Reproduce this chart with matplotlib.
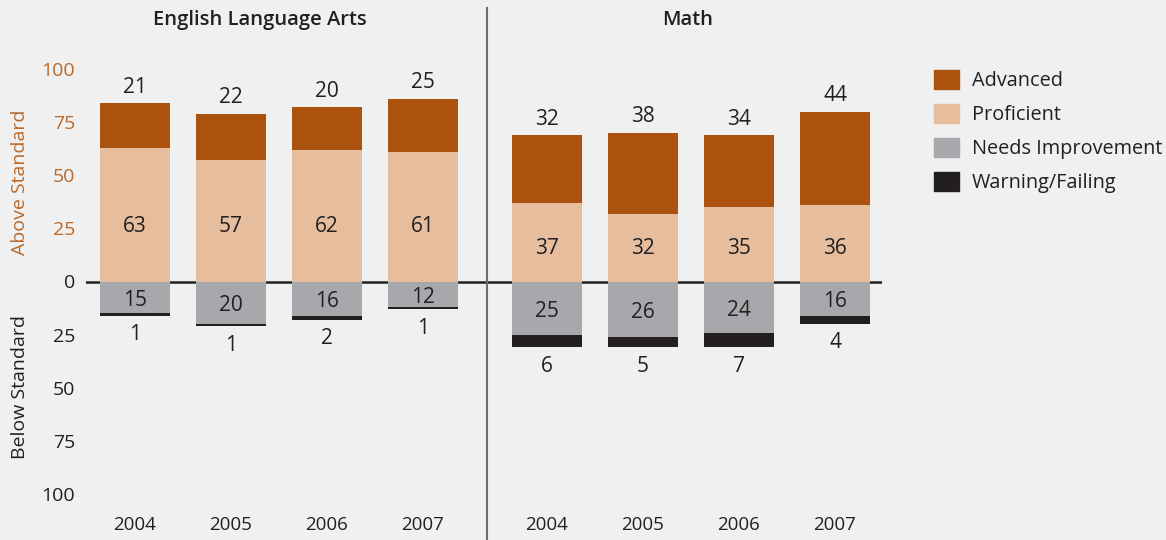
import matplotlib
matplotlib.use("Agg")
import matplotlib.pyplot as plt
from matplotlib.patches import Patch

plt.rcParams['font.family'] = ['Open Sans', 'DejaVu Sans']

# data
years = ['2004', '2005', '2006', '2007']
subjects = ['English Language Arts', 'Math']
ela_advanced = [21, 22, 20, 25]
ela_proficient = [63, 57, 62, 61]
ela_needs = [15, 20, 16, 12]
ela_warning = [1, 1, 2, 1]
math_advanced = [32, 38, 34, 44]
math_proficient = [37, 32, 35, 36]
math_needs = [25, 26, 24, 16]
math_warning = [6, 5, 7, 4]

# colours
c_adv = '#AB520F'
c_prof = '#E6BD9D'
c_need = '#A7A8AB'
c_warn = '#231F20'
c_text = '#231F20'
c_orange = '#B9692B'
bg = '#F0F0F0'

W, H = 1166, 540
fig = plt.figure(figsize=(W / 100, H / 100), dpi=100, facecolor=bg)
# axes box in pixels: x 86..882, y(top)=69 (100) .. 494 (-100)
ax = fig.add_axes([86 / W, (H - 494) / H, (882 - 86) / W, (494 - 69) / H])
ax.set_facecolor(bg)

step = 96.0
bar_w = 70 / step
offsets = [0.0, 412 / step]
ela = (ela_advanced, ela_proficient, ela_needs, ela_warning)
math = (math_advanced, math_proficient, math_needs, math_warning)
prof_label_y = [26, 15.5]

ax.axhline(0, color=c_text, lw=1.8, zorder=1)

xt, xl = [], []
for g, (adv, prof, need, warn) in enumerate([ela, math]):
    xs = [offsets[g] + i for i in range(len(years))]
    xt += xs
    xl += years
    ax.bar(xs, prof, bar_w, color=c_prof, zorder=2)
    ax.bar(xs, adv, bar_w, bottom=prof, color=c_adv, zorder=2)
    ax.bar(xs, [-v for v in need], bar_w, color=c_need, zorder=2)
    ax.bar(xs, [-v for v in warn], bar_w, bottom=[-v for v in need],
           color=c_warn, zorder=2)
    for x, a, p, n, w in zip(xs, adv, prof, need, warn):
        ax.text(x, a + p + 2.5, str(a), ha='center', va='bottom',
                fontsize=15, color=c_text)
        ax.text(x, prof_label_y[g], str(p), ha='center', va='center',
                fontsize=15, color=c_text)
        ax.text(x, -n / 2 - 1.5, str(n), ha='center', va='center',
                fontsize=15, color=c_text)
        ax.text(x, -(n + w) - 4, str(w), ha='center', va='top',
                fontsize=15, color=c_text)

ax.set_xlim(-49 / step, 747 / step)
ax.set_ylim(-100, 100)

ticks = [100, 75, 50, 25, 0, -25, -50, -75, -100]
ax.set_yticks(ticks)
ax.set_yticklabels([str(abs(t)) for t in ticks], fontsize=14)
for t, lab in zip(ticks, ax.get_yticklabels()):
    lab.set_color(c_orange if t > 0 else c_text)
ax.tick_params(axis='y', length=0, pad=8)

ax.set_xticks(xt)
ax.set_xticklabels(xl, fontsize=13.5, color=c_text)
ax.tick_params(axis='x', length=0, pad=16)

for s in ax.spines.values():
    s.set_visible(False)

# divider between subjects
ax.axvline(352 / step, ymin=-0.11, ymax=(494 - 8) / 425, color='#6E6E6E',
           lw=1.5, clip_on=False)

# headings
fig.text(260 / W, 1 - 20 / H, subjects[0], ha='center', va='center',
         fontsize=14.5, fontweight='semibold', color=c_text)
fig.text(688 / W, 1 - 20 / H, subjects[1], ha='center', va='center',
         fontsize=14.5, fontweight='semibold', color=c_text)

# side labels
fig.text(20 / W, 1 - 182 / H, 'Above Standard', rotation=90, ha='center',
         va='center', fontsize=14, color=c_orange)
fig.text(20 / W, 1 - 387 / H, 'Below Standard', rotation=90, ha='center',
         va='center', fontsize=14, color=c_text)

handles = [Patch(color=c_adv, label='Advanced'),
           Patch(color=c_prof, label='Proficient'),
           Patch(color=c_need, label='Needs Improvement'),
           Patch(color=c_warn, label='Warning/Failing')]
fig.legend(handles=handles, loc='upper left',
           bbox_to_anchor=(916 / W, 1 - 52 / H), frameon=False,
           fontsize=14.3, handlelength=1.27, handleheight=1.1,
           handletextpad=0.65, labelspacing=0.64, labelcolor=c_text)

fig.savefig('out.png', dpi=100, facecolor=bg)
